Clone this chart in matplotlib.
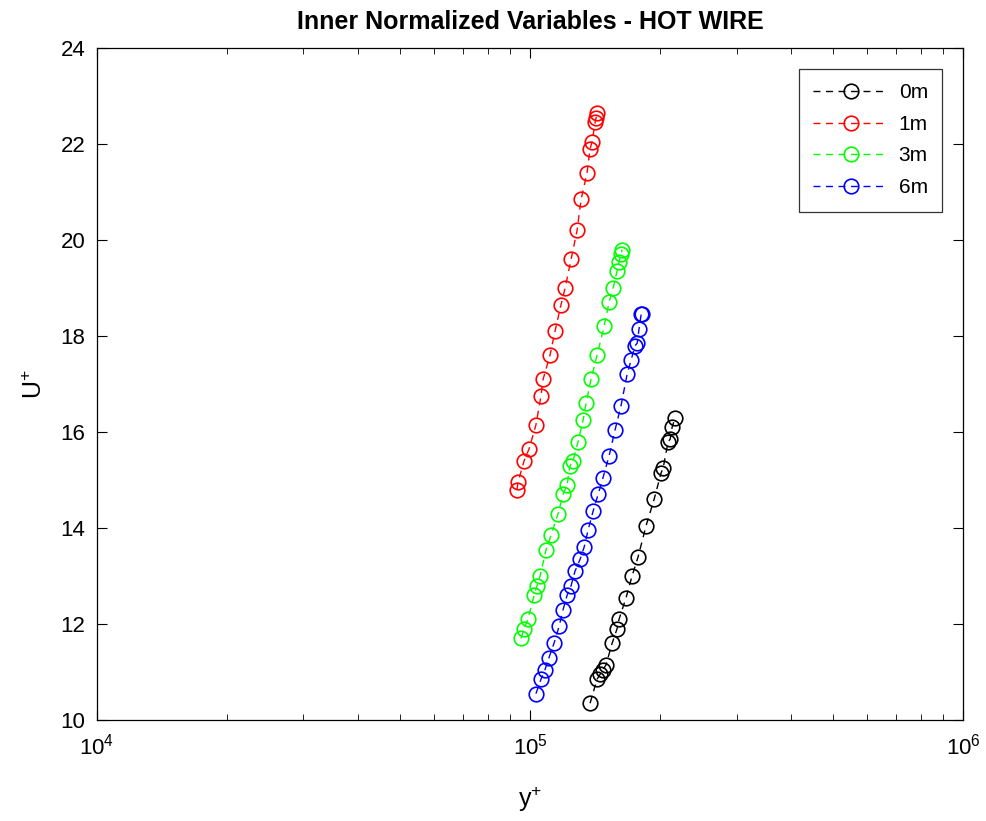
import matplotlib
matplotlib.use("Agg")
import matplotlib.pyplot as plt
import numpy as np

plt.rcParams['font.family'] = ['Liberation Sans', 'DejaVu Sans']
plt.rcParams['mathtext.fontset'] = 'custom'
plt.rcParams['mathtext.rm'] = 'Liberation Sans'
plt.rcParams['mathtext.it'] = 'Liberation Sans'

# y+ values (x axis, log) and U+ values per station
yp_0m = [1.376e5, 1.428e5, 1.451e5, 1.474e5, 1.498e5, 1.547e5, 1.588e5, 1.605e5,
         1.666e5, 1.720e5, 1.776e5, 1.853e5, 1.934e5, 2.007e5, 2.029e5, 2.083e5,
         2.106e5, 2.128e5, 2.162e5]
up_0m = [10.35, 10.85, 10.95, 11.05, 11.15, 11.6, 11.9, 12.1, 12.55, 13.0, 13.4,
         14.05, 14.6, 15.15, 15.25, 15.8, 15.85, 16.1, 16.3]

yp_1m = [0.933e5, 0.938e5, 0.969e5, 0.995e5, 1.032e5, 1.060e5, 1.072e5, 1.112e5,
         1.142e5, 1.179e5, 1.205e5, 1.244e5, 1.284e5, 1.312e5, 1.354e5, 1.376e5,
         1.391e5, 1.413e5, 1.421e5, 1.428e5]
up_1m = [14.8, 14.95, 15.4, 15.65, 16.15, 16.75, 17.1, 17.6, 18.1, 18.65, 19.0,
         19.6, 20.2, 20.85, 21.4, 21.9, 22.05, 22.45, 22.55, 22.65]

yp_3m = [0.953e5, 0.969e5, 0.989e5, 1.022e5, 1.038e5, 1.055e5, 1.089e5, 1.118e5,
         1.161e5, 1.192e5, 1.218e5, 1.237e5, 1.257e5, 1.291e5, 1.326e5, 1.347e5,
         1.383e5, 1.428e5, 1.482e5, 1.522e5, 1.555e5, 1.588e5, 1.605e5, 1.622e5,
         1.631e5]
up_3m = [11.7, 11.9, 12.1, 12.6, 12.8, 13.0, 13.55, 13.85, 14.3, 14.7, 14.9, 15.3,
         15.4, 15.8, 16.25, 16.6, 17.1, 17.6, 18.2, 18.7, 19.0, 19.35, 19.55, 19.7,
         19.8]

yp_6m = [1.032e5, 1.060e5, 1.083e5, 1.106e5, 1.136e5, 1.167e5, 1.192e5, 1.218e5,
         1.244e5, 1.270e5, 1.305e5, 1.333e5, 1.361e5, 1.398e5, 1.436e5, 1.474e5,
         1.522e5, 1.572e5, 1.622e5, 1.675e5, 1.711e5, 1.748e5, 1.767e5, 1.785e5,
         1.805e5, 1.814e5]
up_6m = [10.55, 10.85, 11.05, 11.3, 11.6, 11.95, 12.3, 12.6, 12.8, 13.1, 13.35,
         13.6, 13.95, 14.35, 14.7, 15.05, 15.5, 16.05, 16.55, 17.2, 17.5, 17.8,
         17.85, 18.15, 18.45, 18.45]

series = [(yp_0m, up_0m, 'k', '0m'),
          (yp_1m, up_1m, 'r', '1m'),
          (yp_3m, up_3m, '#00ff00', '3m'),
          (yp_6m, up_6m, 'b', '6m')]

fig = plt.figure(figsize=(9.87, 8.21), dpi=100)
ax = fig.add_axes([0.098, 0.123, 0.878, 0.8185])

for x, y, c, lab in series:
    ax.plot(x, y, linestyle=(0, (5, 4)), marker='o', color=c, mfc='none', mec=c,
            markersize=10.5, linewidth=1.0, markeredgewidth=1.2, label=lab)

ax.set_xscale('log')
ax.set_xlim(1e4, 1e6)
ax.set_ylim(10, 24)
ax.set_yticks(np.arange(10, 25, 2))
ax.tick_params(which='both', direction='in', top=True, right=True, labelsize=16)
ax.tick_params(axis='x', which='major', pad=10)
ax.tick_params(axis='y', which='major', pad=8)
ax.tick_params(which='major', length=7)
ax.tick_params(which='minor', length=4)
for s in ax.spines.values():
    s.set_linewidth(0.9)

ax.set_title('Inner Normalized Variables - HOT WIRE', fontsize=18, fontweight='bold', pad=14)
ax.set_xlabel('y$^{+}$', fontsize=18, labelpad=18)
ax.set_ylabel('U$^{+}$', fontsize=18, labelpad=10)

leg = ax.legend(loc='upper right', fontsize=15, handlelength=3.6, frameon=True,
                fancybox=False, edgecolor='k', borderaxespad=1.0, labelspacing=0.6,
                borderpad=0.7, handletextpad=0.5)
leg.get_frame().set_linewidth(0.9)

fig.savefig('out.png', dpi=100, facecolor='white')
